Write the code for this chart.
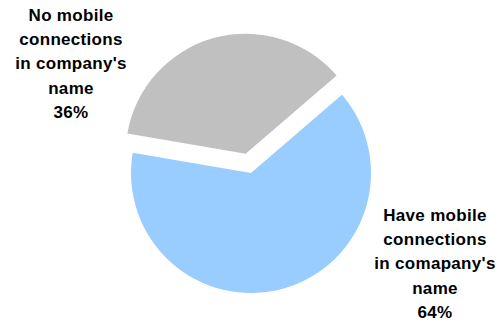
<!DOCTYPE html>
<html>
<head>
<meta charset="utf-8">
<script src="https://cdn.jsdelivr.net/npm/d3@7"></script>
<style>
  body { margin: 0; background: #fff; }
  text { font-family: 'Liberation Sans', Arial, sans-serif; font-weight: bold; }
</style>
</head>
<body>
<div id="chart"></div>
<script>
const categories = ['Have mobile connections', 'No mobile connections']
const values = [64, 36]
const labelLines = [
  ['Have mobile', 'connections', "in comapany's", 'name', '64%'],
  ['No mobile', 'connections', "in company's", 'name', '36%']
]
const colors = ['#99ccff', '#c0c0c0']

const width = 499
const height = 323
const cx = 251
const cy = 173
const radius = 120
const explode = [0, 20]
// label block centres (x) and first baseline (y)
const labelPos = [
  { x: 435, y: 221 },
  { x: 71, y: 21 }
]
const lineHeight = 24.2

const svg = d3
  .select('#chart')
  .append('svg')
  .attr('width', width)
  .attr('height', height)

const data = categories.map((c, i) => ({ name: c, value: values[i], i: i }))

const start = (49.3 * Math.PI) / 180
const pie = d3
  .pie()
  .sort(null)
  .value(d => d.value)
  .startAngle(start)
  .endAngle(start + 2 * Math.PI)

const arc = d3
  .arc()
  .innerRadius(0)
  .outerRadius(radius)

const g = svg.append('g').attr('transform', `translate(${cx},${cy})`)

g.selectAll('path')
  .data(pie(data))
  .enter()
  .append('path')
  .attr('d', arc)
  .attr('fill', d => colors[d.data.i])
  .attr('transform', d => {
    const mid = (d.startAngle + d.endAngle) / 2
    const off = explode[d.data.i]
    return `translate(${Math.sin(mid) * off},${-Math.cos(mid) * off})`
  })

data.forEach((d, i) => {
  const t = svg
    .append('text')
    .attr('text-anchor', 'middle')
    .style('font-size', '17px')
    .style('letter-spacing', '0.3px')
    .attr('fill', '#000')
  labelLines[i].forEach((line, j) => {
    t.append('tspan')
      .attr('x', labelPos[i].x)
      .attr('y', labelPos[i].y + j * lineHeight)
      .text(line)
  })
})
</script>
</body>
</html>
